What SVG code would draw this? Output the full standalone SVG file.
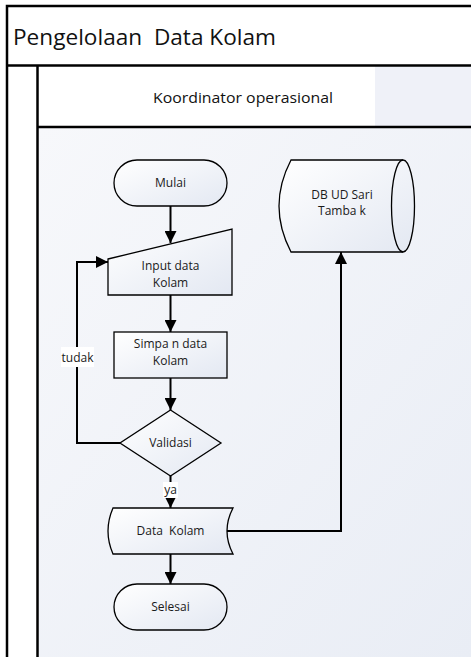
<svg xmlns="http://www.w3.org/2000/svg" width="471" height="657" viewBox="0 0 471 657">
  <defs>
    <linearGradient id="laneFill" x1="0" y1="0" x2="1" y2="1">
      <stop offset="0" stop-color="#f7f8fb"/>
      <stop offset="1" stop-color="#e9edf5"/>
    </linearGradient>
    <linearGradient id="shapeFill" x1="0" y1="0" x2="1" y2="1">
      <stop offset="0" stop-color="#ffffff"/>
      <stop offset="1" stop-color="#e3e8f2"/>
    </linearGradient>
    <marker id="arrow" markerUnits="userSpaceOnUse" markerWidth="12" markerHeight="12" refX="12" refY="6" orient="auto">
      <path d="M0,0 L12,6 L0,12 Z" fill="#000"/>
    </marker>
    <style>
      .frame { stroke: #000; stroke-width: 2.5; fill: none; }
      .shape { fill: url(#shapeFill); stroke: #000; stroke-width: 1.3; }
      .inner { fill: none; stroke: #000; stroke-width: 1.3; }
      .conn { fill: none; stroke: #000; stroke-width: 2; }
      .arr { marker-end: url(#arrow); }
      .lbl { font-family: "Open Sans", "Noto Sans", sans-serif; font-size: 12px; fill: #1a1a1a; text-anchor: middle; white-space: pre; }
      .title { font-family: "Open Sans", "Noto Sans", sans-serif; font-size: 21px; fill: #111; white-space: pre; }
      .lane { font-family: "Open Sans", "Noto Sans", sans-serif; font-size: 14.5px; fill: #111; text-anchor: middle; }
    </style>
  </defs>

  <!-- pool / lane backgrounds -->
  <rect x="0" y="0" width="471" height="657" fill="#ffffff"/>
  <rect x="375" y="66" width="96" height="61" fill="#eff1f8"/>
  <rect x="38" y="128" width="433" height="529" fill="url(#laneFill)"/>

  <!-- pool frame -->
  <g id="pool">
    <path class="frame" d="M7,657 V6 H471"/>
    <path class="frame" d="M7,65.5 H471"/>
    <path class="frame" d="M37.5,65.5 V657"/>
    <path class="frame" d="M37.5,127 H471"/>
    <text class="title" x="13" y="45" textLength="263" lengthAdjust="spacingAndGlyphs">Pengelolaan  Data Kolam</text>
    <text class="lane" x="243" y="103" textLength="180" lengthAdjust="spacingAndGlyphs">Koordinator operasional</text>
  </g>

  <!-- connectors -->
  <g id="connectors">
    <path class="conn arr" d="M170.5,206 V243"/>
    <path class="conn arr" d="M170.5,295 V332"/>
    <path class="conn arr" d="M170.5,378 V410"/>
    <path class="conn arr" d="M120,443 H77 V262 H108"/>
    <path class="conn arr" d="M170.5,476 V508"/>
    <path class="conn arr" d="M170.5,554 V584"/>
    <path class="conn arr" d="M227,531 H341 V252"/>
    <rect x="61" y="347" width="33" height="20" fill="#ffffff"/>
    <text class="lbl" x="77.5" y="362">tudak</text>
    <rect x="163" y="482" width="15" height="16" fill="#ffffff"/>
    <text class="lbl" x="170.5" y="494">ya</text>
  </g>

  <g id="mulai">
    <rect class="shape" x="114" y="160" width="113" height="46" rx="23" ry="23"/>
    <text class="lbl" x="170.5" y="187">Mulai</text>
  </g>

  <g id="input-data">
    <path class="shape" d="M108,259 L232,229 L232,295 L108,295 Z"/>
    <text class="lbl" x="170.5" y="270">Input data</text>
    <text class="lbl" x="170.5" y="287">Kolam</text>
  </g>

  <g id="simpan-data">
    <rect class="shape" x="114" y="332" width="113" height="46"/>
    <text class="lbl" x="170.5" y="348">Simpa n data</text>
    <text class="lbl" x="170.5" y="365">Kolam</text>
  </g>

  <g id="validasi">
    <path class="shape" d="M170.5,410 L221,443 L170.5,476 L120,443 Z"/>
    <text class="lbl" x="170.5" y="447">Validasi</text>
  </g>

  <g id="data-kolam">
    <path class="shape" d="M113,508 L233,508 Q221,531 233,554 L113,554 Q103,531 113,508 Z"/>
    <text class="lbl" x="170.5" y="535">Data  Kolam</text>
  </g>

  <g id="selesai">
    <rect class="shape" x="114" y="584" width="113" height="46" rx="23" ry="23"/>
    <text class="lbl" x="170.5" y="611">Selesai</text>
  </g>

  <g id="db-ud-sari-tambak">
    <path class="shape" d="M291,160 L403,160 A11.5,46 0 0 1 403,252 L291,252 Q267,206 291,160 Z"/>
    <path class="inner" d="M403,160 A11.5,46 0 0 0 403,252"/>
    <text class="lbl" x="342" y="199">DB UD Sari</text>
    <text class="lbl" x="342" y="215">Tamba k</text>
  </g>
</svg>
